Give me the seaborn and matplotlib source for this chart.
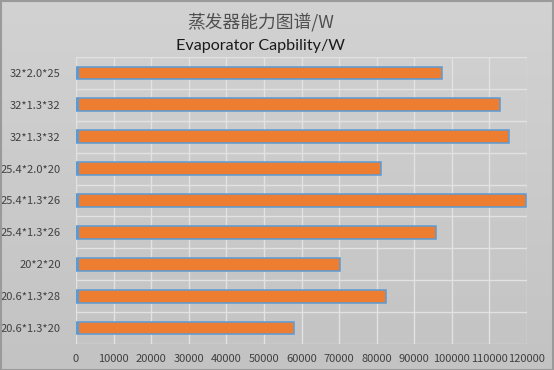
import matplotlib
matplotlib.use("Agg")
import matplotlib.pyplot as plt
import numpy as np
import pandas as pd
import seaborn as sns
from matplotlib.patches import Rectangle
from matplotlib.colors import LinearSegmentedColormap

categories = ["32*2.0*25", "32*1.3*32", "32*1.3*32", "25.4*2.0*20", "25.4*1.3*26",
              "25.4*1.3*26", "20*2*20", "20.6*1.3*28", "20.6*1.3*20"]
capability = [97500, 112900, 115300, 81100, 119800, 95900, 70200, 82400, 58100]
base_series = [900, 900, 900, 900, 900, 900, 900, 900, 900]
x_ticks = [0, 10000, 20000, 30000, 40000, 50000, 60000, 70000, 80000, 90000,
           100000, 110000, 120000]

df = pd.DataFrame({"row": [f"r{i}" for i in range(len(categories))],
                   "label": categories, "value": capability, "base": base_series})

sns.set_theme(style="white")
plt.rcParams["font.family"] = ["Noto Sans CJK SC", "DejaVu Sans"]

fig = plt.figure(figsize=(5.54, 3.70), dpi=100)

# background gradient
bg = fig.add_axes([0, 0, 1, 1], zorder=-10)
grad = np.linspace(0, 1, 256).reshape(-1, 1)
cmap = LinearSegmentedColormap.from_list("g", ["#d2d2d2", "#c3c3c3"])
bg.imshow(grad, aspect="auto", cmap=cmap, extent=[0, 1, 0, 1], origin="upper")
bg.set_axis_off()
fig.add_artist(Rectangle((0.001, 0.001), 0.997, 0.997, transform=fig.transFigure,
                         fill=False, edgecolor="#9a9a9a", linewidth=1.5))

ax = fig.add_axes([76 / 554, 26 / 370, 451 / 554, 287 / 370])
ax.set_facecolor("none")

sns.barplot(data=df, x="value", y="row", orient="h", color="#ED7D31",
            edgecolor="#5B9BD5", linewidth=1.1, width=0.4, saturation=1, ax=ax, zorder=3)
sns.barplot(data=df, x="base", y="row", orient="h", color="#5B9BD5",
            linewidth=0, width=0.4, saturation=1, ax=ax, zorder=4)

ax.set_xlim(0, 120000)
ax.set_ylim(8.5, -0.5)
ax.set_xticks(x_ticks)
ax.set_xticklabels([str(t) for t in x_ticks], fontsize=8, color="#404040")
ax.set_yticks(range(len(categories)))
ax.set_yticklabels(categories, fontsize=8, color="#404040")
ax.set_yticks(np.arange(-0.5, len(categories), 1), minor=True)
ax.tick_params(axis="both", which="both", length=0)
ax.tick_params(axis="y", pad=11)
ax.tick_params(axis="x", pad=7)
ax.grid(True, axis="x", which="major", color="#e2e2e2", linewidth=1, zorder=0)
ax.grid(True, axis="y", which="minor", color="#e2e2e2", linewidth=1, zorder=0)
ax.grid(False, axis="y", which="major")
ax.set_axisbelow(True)
for s in ax.spines.values():
    s.set_visible(False)
ax.set_xlabel("")
ax.set_ylabel("")

cx = 261 / 554
fig.text(cx, 1 - 22 / 370, "蒸发器能力图谱/W", ha="center", va="center",
         fontsize=12.8, color="#505050")
fig.text(cx, 1 - 46 / 370, "Evaporator Capbility/W", ha="center", va="center",
         fontsize=11.6, color="#1a1a1a", family=["Lato", "DejaVu Sans"])

fig.savefig("out.png", dpi=100)
